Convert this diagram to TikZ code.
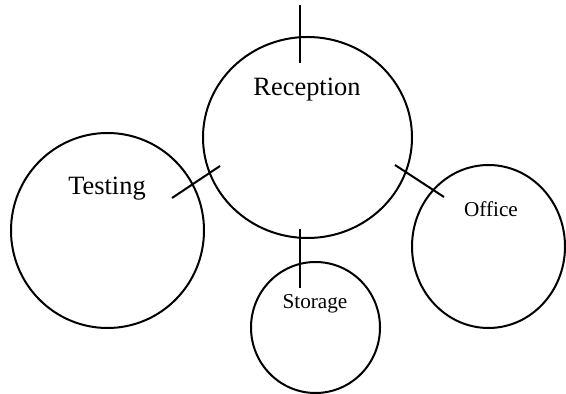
\documentclass[tikz,border=0pt]{standalone}
\usepackage{fontspec}
\setmainfont{Liberation Serif}
\usetikzlibrary{shapes.geometric}
\begin{document}
\begin{tikzpicture}[
    x=0.5pt, y=-0.5pt,
    room/.style={ellipse, draw, line width=1pt, inner sep=0pt},
    link/.style={line width=1pt},
    bigname/.style={font=\fontsize{13.2}{15}\selectfont, anchor=base},
    smallname/.style={font=\fontsize{10.6}{12}\selectfont, anchor=base}
]
    \useasboundingbox (0,0) rectangle (566,394);

    % Rooms
    \node[room, minimum width=104.5pt, minimum height=100.5pt] (reception) at (307.5,137.5) {};
    \node[room, minimum width=96.5pt, minimum height=97.5pt] (testing) at (107.5,230.5) {};
    \node[room, minimum width=76.5pt, minimum height=81.5pt] (office) at (488.5,246.5) {};
    \node[room, minimum width=64.5pt, minimum height=65.5pt] (storage) at (315.5,327.5) {};

    % Room names
    \node[bigname] (receptionname) at (307,96) {Reception};
    \node[bigname] (testingname) at (107,194.5) {Testing};
    \node[smallname] (officename) at (491,217) {Office};
    \node[smallname] (storagename) at (315,309) {Storage};

    % Ends of the links
    \coordinate (topout) at (300,5);
    \coordinate (topin) at (300,63);
    \coordinate (testout) at (172,198);
    \coordinate (testin) at (220,166);
    \coordinate (officeout) at (395,165);
    \coordinate (officein) at (444,197);
    \coordinate (storeout) at (300,229);
    \coordinate (storein) at (300,288);

    % Links
    \draw[link] (topout) -- (topin);
    \draw[link] (testout) -- (testin);
    \draw[link] (officeout) -- (officein);
    \draw[link] (storeout) -- (storein);
\end{tikzpicture}
\end{document}
